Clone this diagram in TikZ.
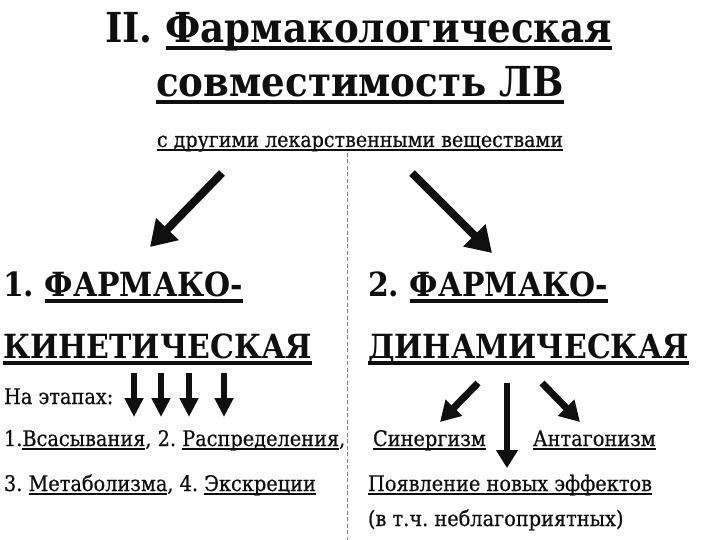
\documentclass[tikz,border=0pt]{standalone}
\usepackage{fontspec}
\setmainfont{DejaVuSerifCondensed}[Extension=.ttf,UprightFont=*,BoldFont=*-Bold,UprightFeatures={FakeBold=0.6}]
\usetikzlibrary{arrows.meta}
\definecolor{divred}{RGB}{215,95,115}
\definecolor{ink}{RGB}{15,15,15}
\newlength\fitlen
\newcommand\fitsize[4]{%
  \settowidth\fitlen{\fontsize{10}{12}\selectfont#2#4}%
  \pgfmathsetmacro#1{10*#3/\fitlen}}
\begin{document}
\frenchspacing
\fitsize\ttlsz{\bfseries}{507}{II.\ Фармакологическая}%
\fitsize\subsz{}{406}{с другими лекарственными веществами}%
\fitsize\hdrsz{\bfseries}{309}{КИНЕТИЧЕСКАЯ}%
\fitsize\bodsz{}{284}{Появление новых эффектов}%
\begin{tikzpicture}[x=1pt,y=-1pt,
  every node/.style={inner sep=0pt,outer sep=0pt,text=ink},
  ttl/.style={font=\fontsize{\ttlsz}{\ttlsz}\selectfont\bfseries,anchor=base west},
  hdr/.style={font=\fontsize{\hdrsz}{\hdrsz}\selectfont\bfseries,anchor=base west},
  subt/.style={font=\fontsize{\subsz}{\subsz}\selectfont,anchor=base},
  body/.style={font=\fontsize{\bodsz}{\bodsz}\selectfont,anchor=base west},
  ulbig/.style={draw=ink,line width=3.5pt},
  ulsmall/.style={draw=ink,line width=1.5pt},
  bigarrow/.style={draw=ink,line width=8pt,-{Triangle[length=25pt,width=30pt]}},
  smallarrow/.style={draw=ink,line width=5.5pt,-{Triangle[length=19pt,width=18pt]}},
  divider/.style={draw=divred,line width=1pt,dash pattern=on 4pt off 2.5pt}]
\useasboundingbox[fill=white] (0,0) rectangle (720,540);

% title
\node[ttl] (t1a) at (105,43) {II.\ \null};
\node[ttl] (t1b) at (t1a.base east) {Фармакологическая};
\node[ttl,anchor=base] (t2) at (360,97) {совместимость ЛВ};
\node[subt] (sub) at (360,147) {с другими лекарственными веществами};

% divider
\coordinate (dtop) at (347,153);
\coordinate (dbot) at (347,540);
\draw[divider] (dtop) -- (dbot);

% big arrows
\coordinate (la0) at (222,173);
\coordinate (la1) at (150,247);
\coordinate (ra0) at (412,173);
\coordinate (ra1) at (492,253);
\draw[bigarrow] (la0) -- (la1);
\draw[bigarrow] (ra0) -- (ra1);

% headers
\node[hdr] (h1a) at (3,296) {1.\ \null};
\node[hdr] (h1b) at (h1a.base east) {ФАРМАКО-};
\node[hdr] (h1c) at (3,358) {КИНЕТИЧЕСКАЯ};
\node[hdr] (h2a) at (368,296) {2.\ \null};
\node[hdr] (h2b) at (h2a.base east) {ФАРМАКО-};
\node[hdr] (h2c) at (368,358) {ДИНАМИЧЕСКАЯ};

% left column
\node[body] (st) at (4,404) {На этапах:};
\foreach \i/\x in {1/134,2/161,3/189,4/224}{
  \coordinate (sa\i) at (\x,373);
  \coordinate (sb\i) at (\x,417);
  \draw[smallarrow] (sa\i) -- (sb\i);
}
\node[body] (l1a) at (4,446) {1.};
\node[body] (l1b) at (l1a.base east) {Всасывания};
\node[body] (l1c) at (l1b.base east) {,\ 2.\ \null};
\node[body] (l1d) at (l1c.base east) {Распределения};
\node[body] (l1e) at (l1d.base east) {,};
\node[body] (l2a) at (4,491) {3.\ \null};
\node[body] (l2b) at (l2a.base east) {Метаболизма};
\node[body] (l2c) at (l2b.base east) {,\ 4.\ \null};
\node[body] (l2d) at (l2c.base east) {Экскреции};

% right column
\coordinate (da0) at (478,383);
\coordinate (da1) at (440,422);
\coordinate (db0) at (507,383);
\coordinate (db1) at (507,468);
\coordinate (dc0) at (542,383);
\coordinate (dc1) at (580,422);
\draw[draw=ink,line width=7pt,-{Triangle[length=20pt,width=22pt]}] (da0) -- (da1);
\draw[draw=ink,line width=6pt,-{Triangle[length=18pt,width=21pt]}] (db0) -- (db1);
\draw[draw=ink,line width=7pt,-{Triangle[length=20pt,width=22pt]}] (dc0) -- (dc1);
\node[body] (syn) at (373,446) {Синергизм};
\node[body] (ant) at (533,446) {Антагонизм};
\node[body] (nov) at (368,491) {Появление новых эффектов};
\node[body] (neb) at (368,526) {(в т.ч. неблагоприятных)};

% underlines
\foreach \n in {t1b,t2}
  \draw[ulbig] ([yshift=-5pt]\n.base west) -- ([yshift=-5pt]\n.base east);
\foreach \n in {h1b,h1c,h2b,h2c}
  \draw[ulbig] ([yshift=-5pt]\n.base west) -- ([yshift=-5pt]\n.base east);
\foreach \n in {sub,l1b,l1d,l2b,l2d,syn,ant,nov}
  \draw[ulsmall] ([yshift=-3pt]\n.base west) -- ([yshift=-3pt]\n.base east);
\end{tikzpicture}
\end{document}
